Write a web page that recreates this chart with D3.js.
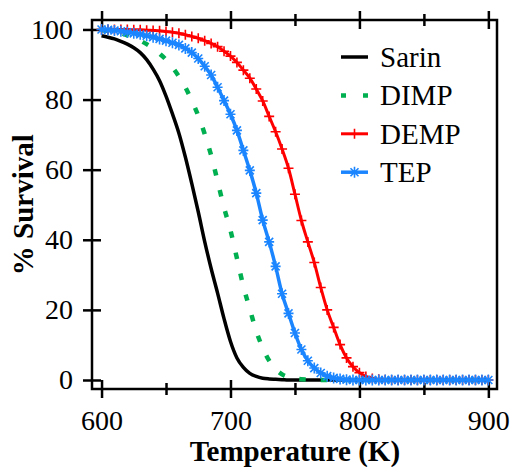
<!DOCTYPE html>
<html>
<head>
<meta charset="utf-8">
<script src="https://cdn.jsdelivr.net/npm/d3@7"></script>
<style>
    body { margin: 0; background: white; }
    #chart { width: 514px; height: 467px; }
</style>
</head>
<body>
<div id="chart"></div>
<script>
// temperature grid (K)
const temps = [600, 605, 610, 615, 620, 625, 630, 635, 640, 645, 650, 655, 660, 665, 670, 675, 680, 685, 690, 695,
    700, 705, 710, 715, 720, 725, 730, 735, 740, 745, 750, 755, 760, 765, 770, 775, 780, 785, 790, 795,
    800, 805, 810, 815, 820, 825, 830, 835, 840, 845, 850, 855, 860, 865, 870, 875, 880, 885, 890, 895, 900];

// % survival
const sarin = [98.2, 97.8, 97.3, 96.6, 95.8, 94.8, 93.4, 91.4, 88.7, 85.4, 81.0, 75.9, 70.4, 63.6, 56.0, 48.0, 39.5, 31.8, 24.8, 17.5,
    11.0, 6.3, 3.6, 1.9, 1.0, 0.5, 0.3, 0.2, 0.1, 0, 0, 0, 0, 0, 0, 0, 0, 0, 0, 0,
    0, 0, 0, 0, 0, 0, 0, 0, 0, 0, 0, 0, 0, 0, 0, 0, 0, 0, 0, 0, 0];
const dimp = [99.8, 99.6, 99.3, 98.9, 98.3, 97.6, 96.8, 95.8, 94.6, 93.1, 91.4, 89.2, 86.6, 83.5, 79.7, 75.4, 70.2, 64.1, 56.7, 49.2,
    42.7, 34.7, 26.7, 20.3, 13.9, 9.2, 5.5, 3.1, 1.6, 0.8, 0.4, 0.2, 0.1, 0, 0, 0, 0, 0, 0, 0,
    0, 0, 0, 0, 0, 0, 0, 0, 0, 0, 0, 0, 0, 0, 0, 0, 0, 0, 0, 0, 0];
const demp = [100, 100, 100, 100, 100, 99.9, 99.9, 99.8, 99.7, 99.6, 99.4, 99.2, 98.9, 98.5, 98.0, 97.5, 96.8, 96.0, 95.1, 93.8,
    92.4, 90.6, 88.4, 86.1, 83.0, 79.6, 75.2, 70.8, 65.9, 60.4, 53.0, 45.5, 39.4, 33.5, 26.4, 20.0, 15.0, 10.1, 6.3, 3.8,
    2.1, 1.0, 0.4, 0.2, 0.1, 0, 0, 0, 0, 0, 0, 0, 0, 0, 0, 0, 0, 0, 0, 0, 0];
const tep = [100, 99.9, 99.7, 99.5, 99.2, 98.9, 98.6, 98.2, 97.8, 97.3, 96.8, 96.2, 95.6, 94.6, 93.4, 91.7, 89.5, 87.0, 83.5, 79.7,
    75.8, 71.2, 65.5, 59.8, 53.3, 45.6, 39.4, 32.4, 24.6, 19.0, 13.4, 8.7, 5.5, 3.4, 2.0, 1.1, 0.6, 0.3, 0.1, 0,
    0, 0, 0, 0, 0, 0, 0, 0, 0, 0, 0, 0, 0, 0, 0, 0, 0, 0, 0, 0, 0];

const seriesNames = ["Sarin", "DIMP", "DEMP", "TEP"];
const xMajorTicks = [600, 700, 800, 900];
const xMinorTicks = [650, 750, 850];
const yTicks = [0, 20, 40, 60, 80, 100];

const FONT = "Liberation Serif";

class SurvivalChart {
    constructor(parentContainer) {
        this.parentContainer = parentContainer;
        this.initVis();
    }

    initVis() {
        let vis = this;

        vis.margin = {top: 20, right: 17, bottom: 78, left: 92};
        vis.width = 514 - vis.margin.left - vis.margin.right;
        vis.height = 467 - vis.margin.top - vis.margin.bottom;

        vis.svg = d3.select(`#${vis.parentContainer}`)
            .append("svg")
            .attr("width", 514)
            .attr("height", 467)
            .append("g")
            .attr("transform", `translate(${vis.margin.left}, ${vis.margin.top})`);

        vis.x = d3.scaleLinear().domain([592.6, 906.7]).range([0, vis.width]);
        vis.y = d3.scaleLinear().domain([-2.57, 102.7]).range([vis.height, 0]);

        vis.series = [
            {name: seriesNames[0], values: sarin, color: "#000000", width: 3.5, dash: null, marker: null},
            {name: seriesNames[1], values: dimp, color: "#00b050", width: 4.5, dash: "6.5,15", marker: null},
            {name: seriesNames[2], values: demp, color: "#ff0000", width: 3, dash: null, marker: "plus"},
            {name: seriesNames[3], values: tep, color: "#1a85ff", width: 3.5, dash: null, marker: "star"}
        ];

        vis.drawAxes();
        vis.drawLines();
        vis.drawFrame();
        vis.drawLegend();
    }

    styleAxis(g) {
        g.attr("font-family", FONT).attr("font-size", 28);
        g.select(".domain").remove();
        g.selectAll("text")
            .attr("font-family", FONT)
            .attr("font-size", 28)
            .attr("fill", "black");
    }

    drawAxes() {
        let vis = this;

        // Y-axis (ticks cross the frame)
        const yAxis = vis.svg.append("g")
            .call(d3.axisLeft(vis.y).tickValues(yTicks).tickSize(9).tickSizeOuter(0).tickPadding(10));
        vis.styleAxis(yAxis);
        yAxis.selectAll(".tick line").attr("x1", 9).attr("stroke-width", 2.5);

        // X-axis bottom
        const xAxis = vis.svg.append("g")
            .attr("transform", `translate(0, ${vis.height})`)
            .call(d3.axisBottom(vis.x).tickValues(xMajorTicks).tickSize(9).tickSizeOuter(0).tickPadding(12));
        vis.styleAxis(xAxis);
        xAxis.selectAll(".tick line").attr("y1", -9).attr("stroke-width", 2.5);

        const xMinor = vis.svg.append("g")
            .attr("transform", `translate(0, ${vis.height})`)
            .call(d3.axisBottom(vis.x).tickValues(xMinorTicks).tickSize(6).tickSizeOuter(0).tickFormat(""));
        vis.styleAxis(xMinor);
        xMinor.selectAll(".tick line").attr("y1", -6).attr("stroke-width", 2.5);

        // X-axis top (ticks only)
        const xTop = vis.svg.append("g")
            .call(d3.axisTop(vis.x).tickValues(xMajorTicks).tickSize(9).tickSizeOuter(0).tickFormat(""));
        vis.styleAxis(xTop);
        xTop.selectAll(".tick line").attr("y1", 9).attr("stroke-width", 2.5);

        const xTopMinor = vis.svg.append("g")
            .call(d3.axisTop(vis.x).tickValues(xMinorTicks).tickSize(6).tickSizeOuter(0).tickFormat(""));
        vis.styleAxis(xTopMinor);
        xTopMinor.selectAll(".tick line").attr("y1", 6).attr("stroke-width", 2.5);

        // Axis titles
        vis.svg.append("text")
            .attr("x", vis.x(750))
            .attr("y", vis.height + 72)
            .attr("text-anchor", "middle")
            .attr("font-family", FONT)
            .attr("font-size", 29)
            .attr("font-weight", "bold")
            .text("Temperature (K)");

        vis.svg.append("text")
            .attr("transform", `translate(${-59}, ${vis.y(50)}) rotate(-90)`)
            .attr("text-anchor", "middle")
            .attr("font-family", FONT)
            .attr("font-size", 29)
            .attr("font-weight", "bold")
            .text("% Survival");
    }

    drawLines() {
        let vis = this;

        const line = d3.line()
            .x(d => vis.x(d[0]))
            .y(d => vis.y(d[1]))
            .curve(d3.curveMonotoneX);

        vis.series.forEach(s => {
            const pts = temps.map((t, i) => [t, s.values[i]]);
            vis.svg.append("path")
                .datum(pts)
                .attr("fill", "none")
                .attr("stroke", s.color)
                .attr("stroke-width", s.width)
                .attr("stroke-dasharray", s.dash)
                .attr("stroke-linejoin", "round")
                .attr("d", line);

            if (s.marker) {
                vis.svg.append("g")
                    .selectAll("path")
                    .data(pts)
                    .join("path")
                    .attr("transform", d => `translate(${vis.x(d[0])}, ${vis.y(d[1])})`)
                    .attr("d", vis.markerPath(s.marker))
                    .attr("stroke", s.color)
                    .attr("stroke-width", 1.6)
                    .attr("fill", "none");
            }
        });
    }

    markerPath(type) {
        if (type === "plus") {
            return "M-5,0H5M0,-5V5";
        }
        // asterisk
        return "M-5,0H5M0,-5.5V5.5M-4,-4L4,4M-4,4L4,-4";
    }

    drawFrame() {
        let vis = this;
        vis.svg.append("rect")
            .attr("x", 0)
            .attr("y", 0)
            .attr("width", vis.width)
            .attr("height", vis.height)
            .attr("fill", "none")
            .attr("stroke", "black")
            .attr("stroke-width", 2.5);
    }

    drawLegend() {
        let vis = this;
        const legend = vis.svg.append("g")
            .attr("transform", `translate(${341 - vis.margin.left}, ${57 - vis.margin.top})`);

        vis.series.forEach((s, i) => {
            const row = legend.append("g").attr("transform", `translate(0, ${i * 38.4})`);
            row.append("line")
                .attr("x1", 0).attr("x2", 27)
                .attr("y1", 0).attr("y2", 0)
                .attr("stroke", s.color)
                .attr("stroke-width", s.width)
                .attr("stroke-dasharray", s.dash ? "5,17" : null);
            if (s.marker) {
                row.append("path")
                    .attr("transform", "translate(13.5, 0)")
                    .attr("d", vis.markerPath(s.marker))
                    .attr("stroke", s.color)
                    .attr("stroke-width", 1.6)
                    .attr("fill", "none");
            }
            row.append("text")
                .attr("x", 39)
                .attr("y", 10)
                .attr("font-family", FONT)
                .attr("font-size", 29)
                .text(s.name);
        });
    }
}

new SurvivalChart("chart");
</script>
</body>
</html>
